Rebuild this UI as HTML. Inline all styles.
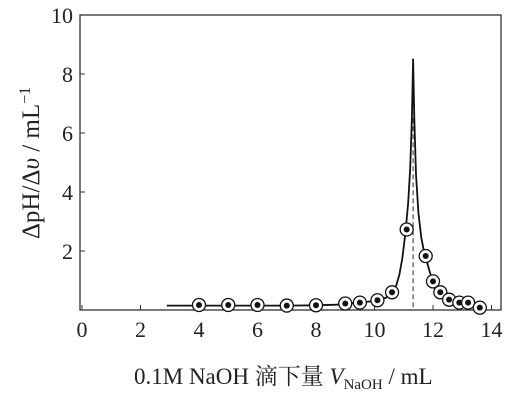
<!DOCTYPE html>
<html><head><meta charset="utf-8"><style>
body{margin:0;background:#fff}
svg{display:block}
text{font-family:"Liberation Serif","Noto Serif CJK SC",serif;fill:#222}
</style></head><body>
<div style="position:absolute;left:0;top:0">
<svg width="510" height="401">
<g id="g"></g>
<text x="134" y="384" font-size="23">0.1M NaOH 滴下量 <tspan font-style="italic">V</tspan><tspan font-size="15" dy="5">NaOH</tspan><tspan dy="-5"> / mL</tspan></text>
<text transform="translate(39,163) rotate(-90)" text-anchor="middle" font-size="25">ΔpH/Δ<tspan font-style="italic">υ</tspan> / mL<tspan font-size="16" dy="-9">−1</tspan></text>
</svg></div>
<script>
const xTicks=[0,2,4,6,8,10,12,14];
const yTicks=[2,4,6,8,10];
const volumes=[4.0,5.0,6.0,7.0,8.0,9.0,9.5,10.1,10.6,11.1,11.75,12.0,12.25,12.55,12.9,13.2,13.6];
const slopes=[0.17,0.17,0.17,0.15,0.16,0.22,0.25,0.33,0.6,2.73,1.83,0.97,0.6,0.35,0.25,0.25,0.08];
const curveX=[2.9,4,5,6,7,8,8.7,9,9.5,10.1,10.4,10.6,10.75,10.85,10.95,11.05,11.15,11.22,11.28,11.32,11.36,11.42,11.5,11.6,11.7,11.8,11.9,12.0,12.1,12.25,12.4,12.55,12.7,12.9,13.2,13.4,13.6,13.75];
const curveY=[0.15,0.15,0.15,0.15,0.15,0.16,0.18,0.21,0.25,0.32,0.42,0.6,0.85,1.2,1.75,2.55,3.6,4.8,6.5,8.5,6.5,4.6,3.3,2.45,1.95,1.6,1.25,0.97,0.8,0.6,0.45,0.36,0.3,0.26,0.22,0.16,0.09,0.05];
const peakX=11.32;
const X=v=>82+v*29.25, Y=v=>310-v*29.5;
const g=document.getElementById('g');
const NS='http://www.w3.org/2000/svg';
function el(t,a){const e=document.createElementNS(NS,t);for(const k in a)e.setAttribute(k,a[k]);g.appendChild(e);return e;}
let e=el('rect',{x:80,y:15,width:421,height:295,fill:'none',stroke:'#333','stroke-width':1.3});


xTicks.forEach(t=>{
 let l=el('line',{x1:X(t),x2:X(t),y1:310,y2:305,stroke:'#333'});
 
 
 let s=el('text',{x:X(t),y:337,'text-anchor':'middle','font-size':22});s.textContent=t;
 
 
});
yTicks.forEach(t=>{
 let l=el('line',{x1:80,x2:85,y1:Y(t),y2:Y(t),stroke:'#333'});
 
 
 let s=el('text',{x:73,y:Y(t)+8,'text-anchor':'end','font-size':22});s.textContent=t;
 
 
});
let d=curveX.map((x,i)=>(i?'L':'M')+X(x).toFixed(1)+','+Y(curveY[i]).toFixed(1)).join('');
e=el('path',{d:d,fill:'none',stroke:'#111','stroke-width':1.8,'stroke-linejoin':'round'});


e=el('line',{x1:X(peakX),x2:X(peakX),y1:Y(6.5),y2:310,stroke:'#333','stroke-dasharray':'5,3'});


volumes.forEach((v,i)=>{
 let c=el('circle',{cx:X(v),cy:Y(slopes[i]),r:6.5,fill:'#fff',stroke:'#111','stroke-width':1.3});
 
 
 let c2=el('circle',{cx:X(v),cy:Y(slopes[i]),r:3,fill:'#111'});
 
 
});
</script>
</body></html>
